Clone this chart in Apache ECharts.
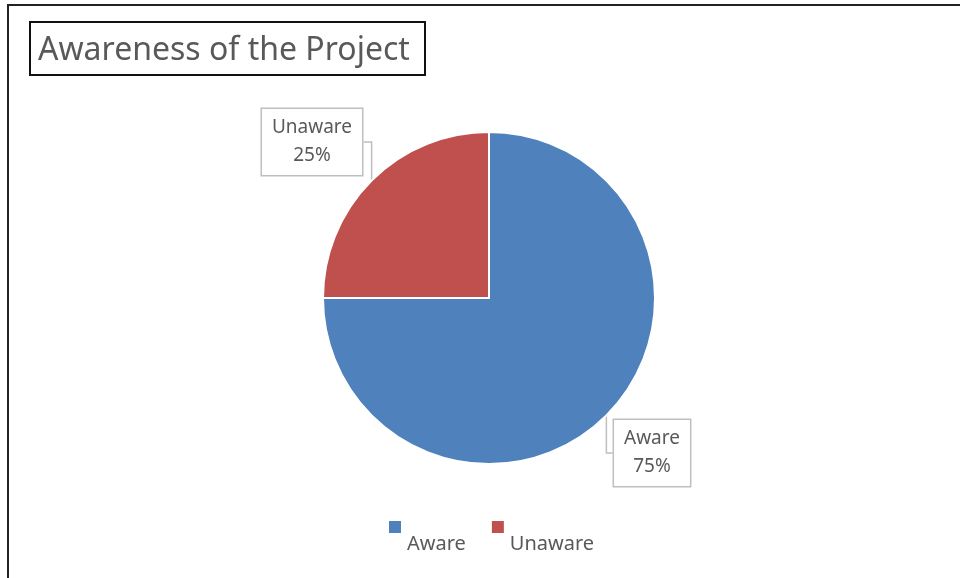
<!DOCTYPE html>
<html lang="en">
<head>
  <meta charset="UTF-8">
  <title>Awareness of the Project</title>
  <script src="https://cdn.jsdelivr.net/npm/echarts@6/dist/echarts.min.js"></script>
  <style type="text/css">
    html, body { margin: 0; padding: 0; background: #fff; }
    #main { width: 960px; height: 578px; }
  </style>
</head>
<body>
  <div id="main"></div>

  <script type="text/javascript">
    var categories = ['Aware', 'Unaware'];
    var values = [75, 25];
    var colors = ['#4F81BD', '#C0504D'];

    // where the callout boxes sit (centre of each box)
    var labelSpots = [[652, 453], [312, 142]];

    var myChart = echarts.init(document.getElementById('main'));

    var pieData = [];
    for (var i = 0; i < categories.length; i++) {
      pieData.push({ name: categories[i], value: values[i], itemStyle: { color: colors[i] } });
    }

    var option = {
      animation: false,
      textStyle: { fontFamily: 'Noto Sans' },
      graphic: [
        {
          type: 'rect',
          shape: { x: 8, y: 5, width: 980, height: 600 },
          style: { fill: 'none', stroke: '#222', lineWidth: 2 }
        },
        {
          type: 'rect',
          shape: { x: 30, y: 22, width: 395, height: 53 },
          style: { fill: 'none', stroke: '#111', lineWidth: 2 }
        }
      ],
      title: {
        text: 'Awareness of the Project',
        left: 33,
        top: 30,
        textStyle: { fontSize: 32, fontWeight: 'normal', color: '#595959', fontFamily: 'Noto Sans' }
      },
      legend: {
        data: categories,
        left: 382,
        top: 514,
        itemWidth: 14,
        itemHeight: 14,
        itemGap: 24,
        textGap: 2,
        icon: 'rect',
        formatter: '{t|{name}}',
        textStyle: {
          fontSize: 20,
          color: '#595959',
          rich: { t: { fontSize: 20, color: '#595959', padding: [34, 0, 0, 0] } }
        }
      },
      series: [{
        type: 'pie',
        center: [489, 298],
        radius: 166,
        startAngle: 90,
        clockwise: true,
        data: pieData,
        itemStyle: { borderColor: '#fff', borderWidth: 2 },
        label: {
          show: true,
          formatter: '{b}\n{d}%',
          fontSize: 19,
          lineHeight: 28,
          color: '#595959',
          backgroundColor: '#fff',
          borderColor: '#bfbfbf',
          borderWidth: 1.5,
          padding: [6, 10, 4, 10]
        },
        labelLine: {
          show: true,
          length: 10,
          length2: 10,
          lineStyle: { color: '#bfbfbf', width: 1.5 }
        },
        labelLayout: function (params) {
          var p = labelSpots[params.dataIndex];
          return { x: p[0], y: p[1], align: 'center', verticalAlign: 'middle' };
        }
      }]
    };

    myChart.setOption(option);
  </script>
</body>
</html>
